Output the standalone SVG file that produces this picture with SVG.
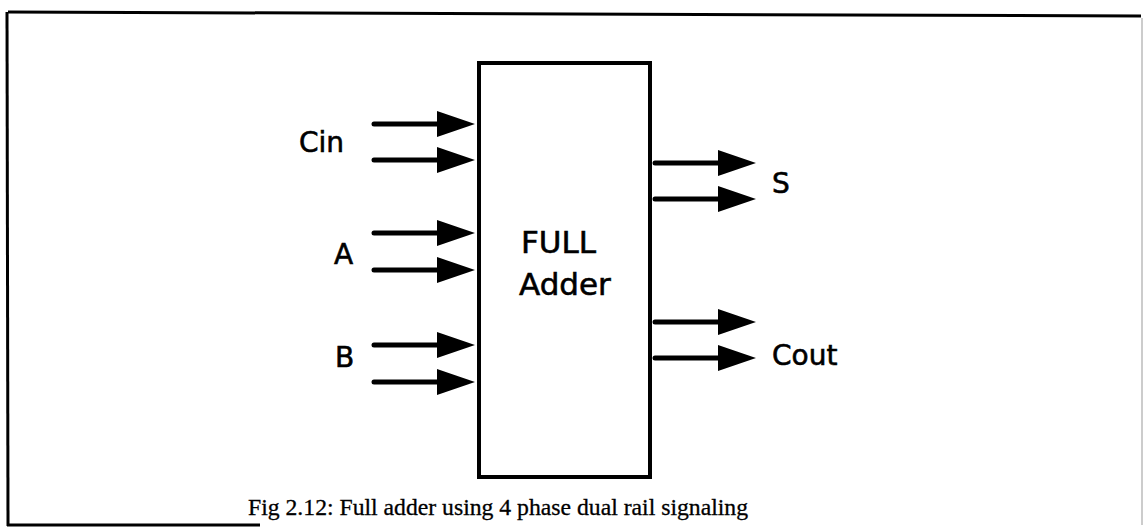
<svg xmlns="http://www.w3.org/2000/svg" width="1143" height="529" viewBox="0 0 1143 529">
<defs>
<style>
.lbl{font-family:"DejaVu Sans",sans-serif;font-size:28px;fill:#000;stroke:#000;stroke-width:0.6}
.box{font-family:"DejaVu Sans",sans-serif;font-size:31px;fill:#000;stroke:#000;stroke-width:0.6}
.cap{font-family:"Liberation Serif",serif;font-size:23.7px;fill:#000;stroke:#000;stroke-width:0.3}
.wire{stroke:#000;stroke-width:5;stroke-linecap:round;fill:none}
</style>
<marker id="ah" markerUnits="userSpaceOnUse" markerWidth="38" markerHeight="26" refX="20" refY="13" orient="auto" viewBox="0 0 38 26">
<path d="M0,0 L38,13 L0,26 Z" fill="#000"/>
</marker>
</defs>
<rect width="1143" height="529" fill="#fff"/>
<g id="frame">
<path d="M8,12 L1141,16" stroke="#000" stroke-width="3" fill="none"/>
<path d="M7,12 L8,526" stroke="#000" stroke-width="3" fill="none"/>
<path d="M7,525 L260,525" stroke="#000" stroke-width="3" fill="none"/>
<path d="M1142,18 L1142,525" stroke="#999" stroke-width="1" fill="none"/>
</g>
<g id="adder">
<rect x="479" y="63" width="171" height="414" fill="#fff" stroke="#000" stroke-width="4"/>
<text class="box" x="521" y="253">FULL</text>
<text class="box" x="519" y="295">Adder</text>
</g>
<g id="connectors">
<line class="wire" x1="374" y1="124" x2="457" y2="124" marker-end="url(#ah)"/>
<line class="wire" x1="374" y1="160" x2="457" y2="160" marker-end="url(#ah)"/>
<line class="wire" x1="374" y1="233" x2="457" y2="233" marker-end="url(#ah)"/>
<line class="wire" x1="374" y1="270" x2="457" y2="270" marker-end="url(#ah)"/>
<line class="wire" x1="374" y1="345" x2="457" y2="345" marker-end="url(#ah)"/>
<line class="wire" x1="374" y1="382" x2="457" y2="382" marker-end="url(#ah)"/>
<line class="wire" x1="655" y1="163" x2="738" y2="163" marker-end="url(#ah)"/>
<line class="wire" x1="655" y1="199" x2="738" y2="199" marker-end="url(#ah)"/>
<line class="wire" x1="655" y1="322" x2="738" y2="322" marker-end="url(#ah)"/>
<line class="wire" x1="655" y1="358" x2="738" y2="358" marker-end="url(#ah)"/>
</g>
<g id="labels">
<text class="lbl" x="299" y="152">Cin</text>
<text class="lbl" x="334" y="264">A</text>
<text class="lbl" x="335" y="367">B</text>
<text class="lbl" x="772" y="193">S</text>
<text class="lbl" x="772" y="365">Cout</text>
</g>
<text id="caption" class="cap" x="248" y="515">Fig 2.12: Full adder using 4 phase dual rail signaling</text>
</svg>
